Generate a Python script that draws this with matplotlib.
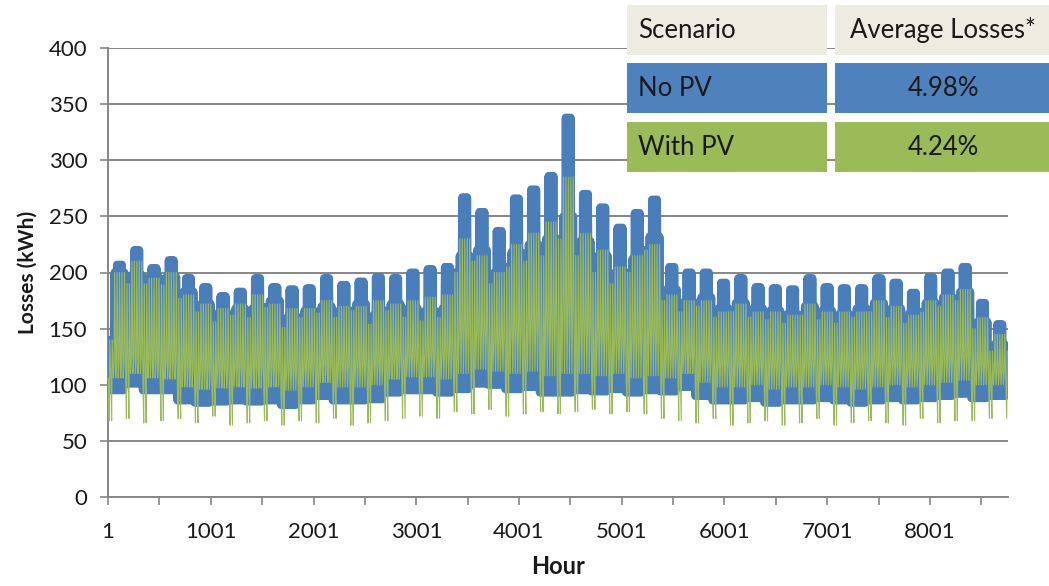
import numpy as np
import matplotlib
matplotlib.use("Agg")
import matplotlib.pyplot as plt
from matplotlib.patches import Rectangle

plt.rcParams['font.family'] = ['Lato', 'DejaVu Sans']

# ---------------- data (weekly resolution) ----------------
# No PV: midweek peak, Monday/Friday shoulder, weekend peak and night low per week (kWh)
nopv_weekday_peak = [207, 220, 204, 211, 195, 187, 179, 183, 195, 187,
                     185, 186, 195, 189, 192, 196, 195, 200, 203, 205,
                     267, 254, 237, 266, 274, 286, 338, 270, 258, 240,
                     253, 265, 205, 200, 200, 191, 195, 187, 186, 185,
                     195, 187, 186, 186, 195, 191, 182, 196, 200, 205,
                     173, 154]
nopv_shoulder_peak = [200, 198, 196, 196, 183, 172, 164, 168, 168, 175,
                      160, 166, 170, 166, 172, 162, 172, 168, 166, 168,
                      215, 220, 200, 218, 225, 230, 250, 228, 215, 200,
                      212, 232, 185, 174, 178, 168, 173, 168, 166, 163,
                      170, 166, 163, 168, 173, 168, 163, 173, 178, 183,
                      156, 136]
nopv_weekend_peak = [140, 190, 190, 189, 177, 165, 156, 162, 160, 169,
                     151, 160, 164, 160, 166, 154, 166, 160, 157, 160,
                     200, 210, 190, 205, 210, 215, 230, 215, 200, 190,
                     200, 220, 175, 165, 170, 160, 165, 160, 158, 155,
                     162, 158, 155, 160, 165, 160, 155, 165, 170, 175,
                     150, 130]
nopv_low = [95, 101, 95, 95, 86, 84, 85, 86, 85, 86,
            82, 86, 90, 86, 86, 87, 93, 95, 95, 93,
            96, 101, 100, 96, 98, 93, 93, 95, 94, 96,
            93, 95, 94, 98, 90, 86, 86, 88, 84, 86,
            86, 88, 86, 84, 86, 88, 86, 88, 90, 92,
            88, 90]
# With PV: night low, weekday evening peak, weekday midday level, weekend midday dip
pv_night_low = [106, 110, 106, 105, 98, 96, 97, 98, 97, 98,
                95, 98, 102, 98, 98, 100, 105, 107, 107, 105,
                110, 114, 112, 110, 112, 108, 110, 110, 108, 110,
                106, 108, 106, 110, 102, 98, 98, 100, 96, 98,
                98, 100, 98, 96, 98, 100, 98, 100, 102, 104,
                100, 100]
pv_peak = [200, 210, 195, 200, 180, 172, 168, 172, 180, 172,
           168, 168, 175, 170, 170, 175, 172, 175, 178, 180,
           230, 215, 200, 225, 235, 245, 285, 235, 220, 205,
           215, 225, 180, 175, 175, 165, 172, 165, 165, 162,
           172, 165, 165, 165, 175, 170, 162, 175, 180, 185,
           160, 145]
pv_weekday_midday = [120, 124, 120, 120, 116, 114, 114, 116, 116, 116,
                     114, 116, 118, 118, 118, 120, 122, 125, 128, 130,
                     150, 148, 140, 150, 155, 160, 175, 152, 148, 140,
                     145, 150, 128, 126, 124, 120, 120, 118, 118, 116,
                     118, 118, 116, 116, 118, 118, 116, 120, 123, 126,
                     118, 112]
pv_weekend_dip = [68, 70, 66, 68, 70, 66, 72, 64, 66, 68,
                  64, 68, 66, 70, 64, 66, 68, 70, 72, 70,
                  76, 74, 78, 72, 74, 76, 74, 76, 78, 74,
                  76, 74, 70, 68, 66, 70, 64, 66, 68, 64,
                  66, 70, 64, 66, 68, 66, 64, 70, 66, 68,
                  68, 70]

ytick_vals = [0, 50, 100, 150, 200, 250, 300, 350, 400]
xtick_labels = ['1', '1001', '2001', '3001', '4001', '5001', '6001', '7001', '8001']
table_rows = [('Scenario', 'Average Losses*'), ('No PV', '4.98%'), ('With PV', '4.24%')]

n_hours = 8760
n_days = n_hours // 24

# ---------------- place weekly readings at daily vertices ----------------
# day-of-week: 0,1 weekend; 2 and 6 shoulder days; 3,4,5 midweek
bx, by, gx, gy = [], [], [], []
for d in range(n_days):
    w = min(d // 7, len(nopv_low) - 1)
    dow = d % 7
    h0 = 24 * d
    if dow in (0, 1):
        hi = nopv_weekend_peak[w]
    elif dow in (2, 6):
        hi = nopv_shoulder_peak[w]
    else:
        hi = nopv_weekday_peak[w]
    bx += [h0 + 4, h0 + 16]
    by += [nopv_low[w], hi]
    if dow in (0, 1):
        mid, gpk = pv_weekend_dip[w], nopv_weekend_peak[w]
    else:
        mid, gpk = pv_weekday_midday[w], pv_peak[w]
    gx += [h0 + 4, h0 + 12, h0 + 17]
    gy += [pv_night_low[w], mid, gpk]

# ---------------- figure ----------------
W, H = 1049, 586
fig = plt.figure(figsize=(W / 100, H / 100), dpi=100)
ax = fig.add_axes([108 / W, 1 - 497 / H, (1008 - 108) / W, (497 - 48) / H])

grey = '#868686'
ax.plot(bx, by, color='#4A7EBB', lw=5.8, solid_joinstyle='round',
        solid_capstyle='round', zorder=3)
ax.plot(gx, gy, color='#9BBB59', lw=0.8, zorder=4)

ax.set_xlim(0.5, n_hours + 0.5)
ax.set_ylim(0, 400)
ax.set_yticks(ytick_vals)
ax.set_yticklabels([str(v) for v in ytick_vals], fontsize=16)
ax.yaxis.grid(True, color=grey, lw=1.4, zorder=1)
ax.set_axisbelow(True)

xt = list(range(1, n_hours, 500))
ax.set_xticks(xt)
ax.set_xticklabels([xtick_labels[i // 2] if i % 2 == 0 else '' for i in range(len(xt))],
                   fontsize=16)
ax.tick_params(axis='both', colors=grey, length=6, width=1.2, labelcolor='#1a1a1a')
ax.tick_params(axis='x', pad=12)
ax.tick_params(axis='y', pad=9)
for s in ('top', 'right'):
    ax.spines[s].set_visible(False)
for s in ('left', 'bottom'):
    ax.spines[s].set_color(grey)
    ax.spines[s].set_linewidth(1.4)

ax.set_xlabel('Hour', fontsize=17, fontweight='bold', labelpad=9, color='#1a1a1a')
ax.set_ylabel('Losses (kWh)', fontsize=15, fontweight='bold', labelpad=8, color='#1a1a1a')

# ---------------- table (top right) ----------------
cell_cols = [(627, 827), (835, 1049)]
cell_rows = [(5, 55), (63, 113), (122, 172)]
row_colors = ['#EEECE1', '#4F81BD', '#9BBB59']
for r, (y0, y1) in enumerate(cell_rows):
    for c, (x0, x1) in enumerate(cell_cols):
        fig.patches.append(Rectangle((x0 / W, 1 - y1 / H), (x1 - x0) / W, (y1 - y0) / H,
                                     transform=fig.transFigure, facecolor=row_colors[r],
                                     edgecolor='none', zorder=5))
        txt = table_rows[r][c]
        ty = 1 - (y0 + y1) / 2 / H
        if c == 0:
            fig.text((x0 + 11) / W, ty, txt, ha='left', va='center', fontsize=18.5,
                     color='#1a1a1a', zorder=6)
        else:
            fig.text(943 / W, ty, txt, ha='center', va='center', fontsize=18.5,
                     color='#1a1a1a', zorder=6)

fig.savefig('out.png', dpi=100)
